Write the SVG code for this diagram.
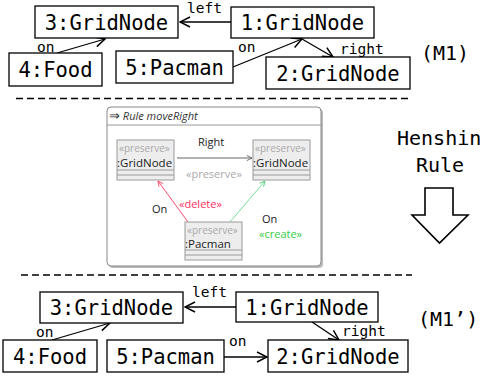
<svg xmlns="http://www.w3.org/2000/svg" width="480" height="377" viewBox="0 0 480 377">
<defs>
<marker id="open" viewBox="0 0 12 12" refX="11" refY="6" markerWidth="12" markerHeight="12" markerUnits="userSpaceOnUse" orient="auto">
<path d="M1,1 L11,6 L1,11" fill="none" stroke="#000" stroke-width="1.5"/>
</marker>
<marker id="gray" viewBox="0 0 8 8" refX="7" refY="4" markerWidth="7" markerHeight="7" markerUnits="userSpaceOnUse" orient="auto">
<path d="M1,1 L7,4 L1,7" fill="none" stroke="#666" stroke-width="1"/>
</marker>
<marker id="red" viewBox="0 0 8 8" refX="7" refY="4" markerWidth="7" markerHeight="7" markerUnits="userSpaceOnUse" orient="auto">
<path d="M1,1 L7,4 L1,7" fill="none" stroke="#ff4d70" stroke-width="1"/>
</marker>
<marker id="green" viewBox="0 0 8 8" refX="7" refY="4" markerWidth="7" markerHeight="7" markerUnits="userSpaceOnUse" orient="auto">
<path d="M1,1 L7,4 L1,7" fill="none" stroke="#55cc77" stroke-width="1"/>
</marker>
</defs>
<style>
.box{fill:#fff;stroke:#000;stroke-width:1.3}
.nt{font-family:"DejaVu Sans Mono",monospace;font-size:20.5px;fill:#000;text-anchor:middle}
.lb{font-family:"DejaVu Sans Mono",monospace;font-size:14.5px;fill:#000}
.big{font-family:"DejaVu Sans Mono",monospace;font-size:20px;fill:#000}
.edge{fill:none;stroke:#000;stroke-width:1.3;marker-end:url(#open)}
.dash{stroke:#000;stroke-width:1.3;stroke-dasharray:7,4}
.hb{fill:#ededed;stroke:#9a9a9a;stroke-width:1}
.hl{stroke:#9a9a9a;stroke-width:1}
.ht{font-family:"Open Sans","Noto Sans",sans-serif;font-size:11px}
.st{font-family:"Open Sans","Noto Sans",sans-serif;font-size:10px;fill:#aaa}
.nm{font-family:"Open Sans","Noto Sans",sans-serif;font-size:11.5px;fill:#222}
</style>

<!-- separators -->
<line class="dash" x1="16" y1="98.5" x2="412" y2="98.5"/>
<line class="dash" x1="21" y1="275" x2="412" y2="275"/>

<!-- ===== M1 ===== -->
<g id="connectors-m1">
<line class="edge" x1="231" y1="22" x2="180" y2="22"/>
<line class="edge" x1="57" y1="53" x2="105" y2="39"/>
<line class="edge" x1="233" y1="67" x2="302" y2="39"/>
<line class="edge" x1="302" y1="39" x2="333" y2="57"/>
<text class="lb" x="187" y="12.5">left</text>
<text class="lb" x="37" y="52">on</text>
<text class="lb" x="238" y="52">on</text>
<text class="lb" x="340" y="54">right</text>
</g>
<g id="m1-n3"><rect class="box" x="35" y="6" width="143" height="32"/><text class="nt" x="106.5" y="29.5">3:GridNode</text></g>
<g id="m1-n1"><rect class="box" x="231" y="7" width="143" height="31"/><text class="nt" x="302.5" y="30">1:GridNode</text></g>
<g id="m1-n4"><rect class="box" x="9" y="53" width="93" height="33"/><text class="nt" x="55.5" y="77">4:Food</text></g>
<g id="m1-n5"><rect class="box" x="116" y="51" width="117" height="32"/><text class="nt" x="174.5" y="74.5">5:Pacman</text></g>
<g id="m1-n2"><rect class="box" x="266" y="57" width="144" height="32"/><text class="nt" x="338" y="80.5">2:GridNode</text></g>
<text class="big" x="421" y="60">(M1)</text>

<!-- ===== Henshin rule ===== -->
<g id="rule">
<rect x="109" y="109" width="214" height="159" rx="4" fill="#bbb"/>
<rect x="107" y="107" width="214" height="159" rx="4" fill="#fff" stroke="#888" stroke-width="1"/>
<line x1="107" y1="125" x2="321" y2="125" stroke="#999" stroke-width="1"/>
<text class="ht" x="109" y="119.5" fill="#333" font-style="italic"><tspan font-size="13px" font-style="normal">⇒</tspan> Rule moveRight</text>
</g>
<g id="rule-connectors">
<line x1="177" y1="158" x2="252" y2="158" stroke="#666" stroke-width="1" marker-end="url(#gray)"/>
<line x1="188" y1="222" x2="158" y2="181" stroke="#ff4d70" stroke-width="1" marker-end="url(#red)"/>
<line x1="230" y1="222" x2="265" y2="181" stroke="#77dd99" stroke-width="1" marker-end="url(#green)"/>
<text class="ht" x="198" y="146" fill="#222">Right</text>
<text class="ht" x="186" y="178" fill="#aaa">«preserve»</text>
<text class="ht" x="152" y="213" fill="#222">On</text>
<text class="ht" x="179" y="208" fill="#ff3060">«delete»</text>
<text class="ht" x="262" y="222.5" fill="#222">On</text>
<text class="ht" x="259" y="238" fill="#33cc44">«create»</text>
</g>
<g id="rule-gridnode-l">
<rect class="hb" x="117" y="140" width="57" height="40"/>
<line class="hl" x1="117" y1="170" x2="174" y2="170"/><line class="hl" x1="117" y1="175" x2="174" y2="175"/>
<text class="st" x="119" y="152">«preserve»</text>
<text class="nm" x="117" y="167">:GridNode</text>
</g>
<g id="rule-gridnode-r">
<rect class="hb" x="253" y="140" width="57" height="40"/>
<line class="hl" x1="253" y1="170" x2="310" y2="170"/><line class="hl" x1="253" y1="175" x2="310" y2="175"/>
<text class="st" x="255" y="152">«preserve»</text>
<text class="nm" x="253" y="167">:GridNode</text>
</g>
<g id="rule-pacman">
<rect class="hb" x="185" y="222" width="57" height="38"/>
<line class="hl" x1="185" y1="250" x2="242" y2="250"/><line class="hl" x1="185" y1="255" x2="242" y2="255"/>
<text class="st" x="187" y="234">«preserve»</text>
<text class="nm" x="185" y="248">:Pacman</text>
</g>

<text class="big" x="397" y="145" font-size="20.5px">Henshin</text>
<text class="big" x="416" y="172">Rule</text>
<path id="down-arrow" d="M425,188 H453 V215 H468 L439.5,243 L412,215 H425 Z" fill="#fff" stroke="#000" stroke-width="1.6"/>

<!-- ===== M1' ===== -->
<g id="connectors-m1p">
<line class="edge" x1="236" y1="307" x2="185" y2="307"/>
<line class="edge" x1="52" y1="340" x2="110" y2="323"/>
<line class="edge" x1="224" y1="357" x2="267" y2="357"/>
<line class="edge" x1="312" y1="322" x2="339" y2="340"/>
<text class="lb" x="192" y="297">left</text>
<text class="lb" x="36" y="337">on</text>
<text class="lb" x="229" y="346">on</text>
<text class="lb" x="342" y="336">right</text>
</g>
<g id="m1p-n3"><rect class="box" x="40" y="292" width="143" height="31"/><text class="nt" x="111.5" y="315">3:GridNode</text></g>
<g id="m1p-n1"><rect class="box" x="236" y="292" width="142" height="30"/><text class="nt" x="307" y="314.5">1:GridNode</text></g>
<g id="m1p-n4"><rect class="box" x="3" y="340" width="94" height="32"/><text class="nt" x="50" y="363.5">4:Food</text></g>
<g id="m1p-n5"><rect class="box" x="107" y="340" width="117" height="32"/><text class="nt" x="165.5" y="363.5">5:Pacman</text></g>
<g id="m1p-n2"><rect class="box" x="268" y="340" width="140" height="32"/><text class="nt" x="338" y="363.5">2:GridNode</text></g>
<text class="big" x="418" y="326">(M1’)</text>
</svg>
